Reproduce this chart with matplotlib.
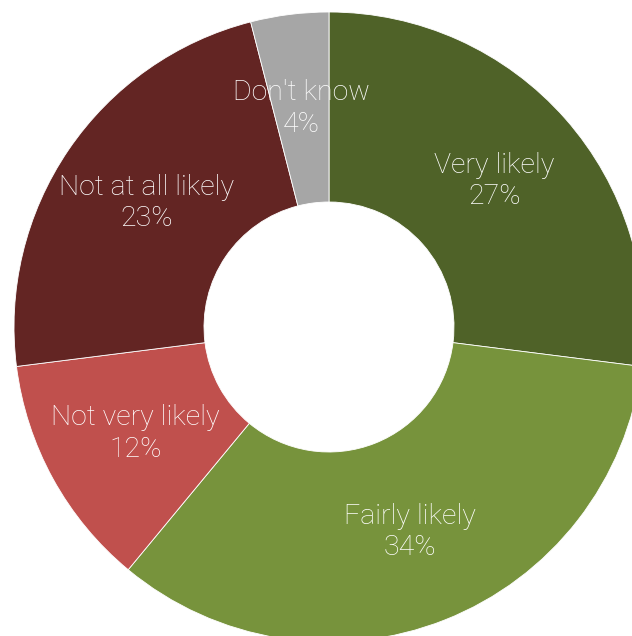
import matplotlib
matplotlib.use("Agg")
import matplotlib.pyplot as plt

categories = ["Very likely", "Fairly likely", "Not very likely", "Not at all likely", "Don't know"]
shares = [27, 34, 12, 23, 4]
colors = ["#4F6228", "#77933C", "#C0504D", "#632523", "#A6A6A6"]

W, H = 632, 636
cx, cy, R = 329, 327, 315

fig = plt.figure(figsize=(W / 100, H / 100), dpi=100)
ax = fig.add_axes([0, 0, 1, 1])
ax.set_axis_off()

wedges, texts = ax.pie(
    shares,
    colors=colors,
    startangle=90,
    counterclock=False,
    radius=1.0,
    labels=[f"{c}\n{v}%" for c, v in zip(categories, shares)],
    labeldistance=0.70,
    wedgeprops=dict(width=1 - 125 / R, edgecolor="white", linewidth=0.6),
    textprops=dict(color="white", fontsize=20.5, family=["Roboto", "DejaVu Sans"],
                   fontweight="light", ha="center", va="center", linespacing=1.22),
)

ax.set_xlim(-cx / R, (W - cx) / R)
ax.set_ylim(-(H - cy) / R, cy / R)
ax.set_aspect("equal")

fig.savefig("out.png", dpi=100)
